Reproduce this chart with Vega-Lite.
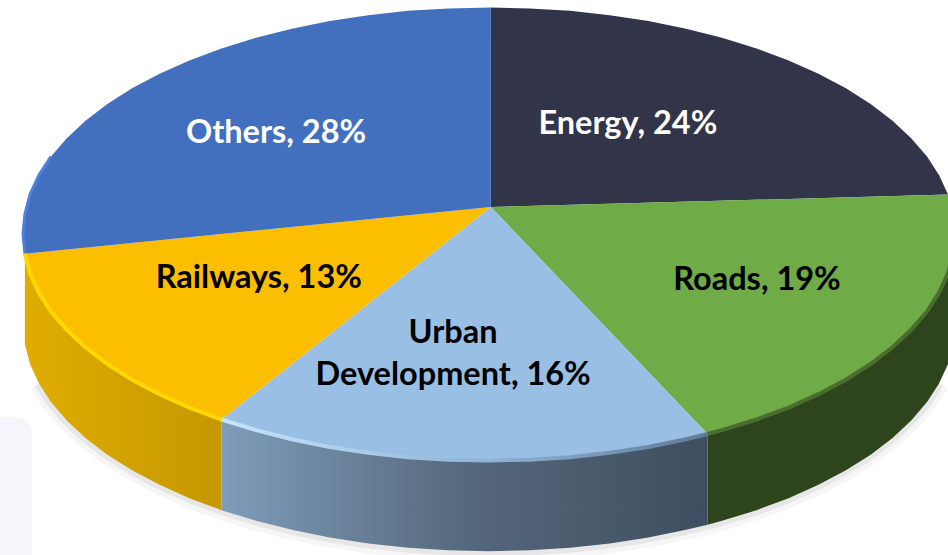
{"$schema":"https://vega.github.io/schema/vega-lite/v6.json","width":948,"height":555,"padding":0,"autosize":{"type":"fit","contains":"padding"},"background":"white","config":{"view":{"stroke":null}},
"datasets":{
"rim":[
{"slice":"Energy","i":0,"x":0.4,"y":11.9},{"slice":"Energy","i":1,"x":0.4,"y":100},{"slice":"Energy","i":2,"x":8.7,"y":99.6},{"slice":"Energy","i":3,"x":17.4,"y":98.5},{"slice":"Energy","i":4,"x":25.9,"y":96.6},{"slice":"Energy","i":5,"x":34.2,"y":94},{"slice":"Energy","i":6,"x":42.3,"y":90.6},{"slice":"Energy","i":7,"x":50,"y":86.6},{"slice":"Energy","i":8,"x":57.4,"y":81.9},{"slice":"Energy","i":9,"x":64.3,"y":76.6},{"slice":"Energy","i":10,"x":70.7,"y":70.7},{"slice":"Energy","i":11,"x":76.6,"y":64.3},{"slice":"Energy","i":12,"x":81.9,"y":57.4},{"slice":"Energy","i":13,"x":86.6,"y":50},{"slice":"Energy","i":14,"x":90.6,"y":42.3},{"slice":"Energy","i":15,"x":94,"y":34.2},{"slice":"Energy","i":16,"x":96.6,"y":25.9},{"slice":"Energy","i":17,"x":98.5,"y":17.4},
{"slice":"Roads","i":0,"x":0.4,"y":11.9},{"slice":"Roads","i":1,"x":98.5,"y":17.4},{"slice":"Roads","i":2,"x":99.6,"y":8.7},{"slice":"Roads","i":3,"x":100,"y":0,"base":-40},{"slice":"Roads","i":4,"x":99.6,"y":-8.7,"base":-48.7},{"slice":"Roads","i":5,"x":98.5,"y":-17.4,"base":-57.4},{"slice":"Roads","i":6,"x":96.6,"y":-25.9,"base":-65.9},{"slice":"Roads","i":7,"x":94,"y":-34.2,"base":-74.2},{"slice":"Roads","i":8,"x":90.6,"y":-42.3,"base":-82.3},{"slice":"Roads","i":9,"x":86.6,"y":-50,"base":-90},{"slice":"Roads","i":10,"x":81.9,"y":-57.4,"base":-97.4},{"slice":"Roads","i":11,"x":76.6,"y":-64.3,"base":-104.3},{"slice":"Roads","i":12,"x":70.7,"y":-70.7,"base":-110.7},{"slice":"Roads","i":13,"x":64.3,"y":-76.6,"base":-116.6},{"slice":"Roads","i":14,"x":57.4,"y":-81.9,"base":-121.9},{"slice":"Roads","i":15,"x":50,"y":-86.6,"base":-126.6},{"slice":"Roads","i":16,"x":46.9,"y":-88.3,"base":-128.3},
{"slice":"Urban Development","i":0,"x":0.4,"y":11.9},{"slice":"Urban Development","i":1,"x":46.9,"y":-88.3,"base":-128.3},{"slice":"Urban Development","i":2,"x":42.3,"y":-90.6,"base":-130.6},{"slice":"Urban Development","i":3,"x":34.2,"y":-94,"base":-134},{"slice":"Urban Development","i":4,"x":25.9,"y":-96.6,"base":-136.6},{"slice":"Urban Development","i":5,"x":17.4,"y":-98.5,"base":-138.5},{"slice":"Urban Development","i":6,"x":8.7,"y":-99.6,"base":-139.6},{"slice":"Urban Development","i":7,"x":0,"y":-100,"base":-140},{"slice":"Urban Development","i":8,"x":-8.7,"y":-99.6,"base":-139.6},{"slice":"Urban Development","i":9,"x":-17.4,"y":-98.5,"base":-138.5},{"slice":"Urban Development","i":10,"x":-25.9,"y":-96.6,"base":-136.6},{"slice":"Urban Development","i":11,"x":-34.2,"y":-94,"base":-134},{"slice":"Urban Development","i":12,"x":-42.3,"y":-90.6,"base":-130.6},{"slice":"Urban Development","i":13,"x":-50,"y":-86.6,"base":-126.6},{"slice":"Urban Development","i":14,"x":-57.4,"y":-81.9,"base":-121.9},
{"slice":"Railways","i":0,"x":0.4,"y":11.9},{"slice":"Railways","i":1,"x":-57.4,"y":-81.9,"base":-121.9},{"slice":"Railways","i":2,"x":-64.3,"y":-76.6,"base":-116.6},{"slice":"Railways","i":3,"x":-70.7,"y":-70.7,"base":-110.7},{"slice":"Railways","i":4,"x":-76.6,"y":-64.3,"base":-104.3},{"slice":"Railways","i":5,"x":-81.9,"y":-57.4,"base":-97.4},{"slice":"Railways","i":6,"x":-86.6,"y":-50,"base":-90},{"slice":"Railways","i":7,"x":-90.6,"y":-42.3,"base":-82.3},{"slice":"Railways","i":8,"x":-94,"y":-34.2,"base":-74.2},{"slice":"Railways","i":9,"x":-96.6,"y":-25.9,"base":-65.9},{"slice":"Railways","i":10,"x":-98.5,"y":-17.4,"base":-57.4},{"slice":"Railways","i":11,"x":-99.6,"y":-8.7,"base":-48.7},
{"slice":"Others","i":0,"x":0.4,"y":11.9},{"slice":"Others","i":1,"x":-99.6,"y":-8.7},{"slice":"Others","i":2,"x":-100,"y":0},{"slice":"Others","i":3,"x":-99.6,"y":8.7},{"slice":"Others","i":4,"x":-98.5,"y":17.4},{"slice":"Others","i":5,"x":-96.6,"y":25.9},{"slice":"Others","i":6,"x":-94,"y":34.2},{"slice":"Others","i":7,"x":-90.6,"y":42.3},{"slice":"Others","i":8,"x":-86.6,"y":50},{"slice":"Others","i":9,"x":-81.9,"y":57.4},{"slice":"Others","i":10,"x":-76.6,"y":64.3},{"slice":"Others","i":11,"x":-70.7,"y":70.7},{"slice":"Others","i":12,"x":-64.3,"y":76.6},{"slice":"Others","i":13,"x":-57.4,"y":81.9},{"slice":"Others","i":14,"x":-50,"y":86.6},{"slice":"Others","i":15,"x":-42.3,"y":90.6},{"slice":"Others","i":16,"x":-34.2,"y":94},{"slice":"Others","i":17,"x":-25.9,"y":96.6},{"slice":"Others","i":18,"x":-17.4,"y":98.5},{"slice":"Others","i":19,"x":-8.7,"y":99.6},{"slice":"Others","i":20,"x":0.4,"y":100}
],
"labels":[
{"slice":"Energy","share":24,"label":"Energy, 24%","x":29.8,"y":48.6},
{"slice":"Others","share":28,"label":"Others, 28%","x":-45.7,"y":44.6},
{"slice":"Roads","share":19,"label":"Roads, 19%","x":57.5,"y":-20.3},
{"slice":"Railways","share":13,"label":"Railways, 13%","x":-49.4,"y":-19.4},
{"slice":"Urban Development","share":16,"label":"Urban\nDevelopment, 16%","x":-7.7,"y":-43.7}
],
"panel":[{"x":-104.94,"x2":-98.07,"y":-80.8,"y2":-141.7}]
},
"encoding":{
"x":{"field":"x","type":"quantitative","axis":null,"scale":{"domain":[-104.94,98.5],"nice":false,"zero":false}},
"y":{"field":"y","type":"quantitative","axis":null,"scale":{"domain":[-141.7,103.3],"nice":false,"zero":false}}
},
"layer":[
{"data":{"name":"panel"},"mark":{"type":"rect","fill":"#f5f5fb","cornerRadiusTopRight":18},"encoding":{"x2":{"field":"x2"},"y2":{"field":"y2"}}},
{"data":{"name":"rim"},"transform":[{"filter":"isValid(datum.base) && datum.y<-20"}],"mark":{"type":"line","stroke":"#000000","strokeWidth":20,"opacity":0.035,"clip":true},"encoding":{"y":{"field":"base","type":"quantitative"},"detail":{"field":"slice"},"order":{"field":"i"}}},
{"data":{"name":"rim"},"transform":[{"filter":"isValid(datum.base) && datum.y<-20"}],"mark":{"type":"line","stroke":"#000000","strokeWidth":10,"opacity":0.06,"clip":true},"encoding":{"y":{"field":"base","type":"quantitative"},"detail":{"field":"slice"},"order":{"field":"i"}}},
{"data":{"name":"rim"},"transform":[{"filter":"datum.slice==='Railways' && datum.i>0"}],"mark":{"type":"area","clip":true,"fill":{"x1":0,"y1":0,"x2":1,"y2":0,"gradient":"linear","stops":[{"offset":0,"color":"#E0AC00"},{"offset":1,"color":"#C59800"}]}},"encoding":{"y2":{"field":"base"}}},
{"data":{"name":"rim"},"transform":[{"filter":"datum.slice==='Urban Development' && datum.i>0"}],"mark":{"type":"area","clip":true,"fill":{"x1":0,"y1":0,"x2":1,"y2":0,"gradient":"linear","stops":[{"offset":0,"color":"#7F9DBB"},{"offset":0.5,"color":"#56687C"},{"offset":1,"color":"#3E4E60"}]}},"encoding":{"y2":{"field":"base"}}},
{"data":{"name":"rim"},"transform":[{"filter":"datum.slice==='Roads' && isValid(datum.base)"}],"mark":{"type":"area","clip":true,"fill":"#2E441C"},"encoding":{"y2":{"field":"base"}}},
{"data":{"name":"rim"},"mark":{"type":"line","filled":true,"strokeWidth":0,"clip":true},"encoding":{"fill":{"field":"slice","type":"nominal","legend":null,"scale":{"domain":["Energy","Roads","Urban Development","Railways","Others"],"range":["#323449","#6FAB47","#9ABFE4","#FBBE00","#4270BF"]}},"detail":{"field":"slice"},"order":{"field":"i"}}},
{"data":{"name":"rim"},"transform":[{"filter":"datum.slice==='Others' && datum.i>0 && datum.i<7"}],"mark":{"type":"line","stroke":"#4B80DB","strokeWidth":3,"clip":true},"encoding":{"order":{"field":"i"}}},
{"data":{"name":"rim"},"transform":[{"filter":"datum.slice==='Railways' && datum.i>0"}],"mark":{"type":"line","stroke":"#FFD800","strokeWidth":4,"clip":true},"encoding":{"order":{"field":"i"}}},
{"data":{"name":"rim"},"transform":[{"filter":"datum.slice==='Urban Development' && datum.i>0"}],"mark":{"type":"line","strokeWidth":4,"clip":true,"stroke":{"x1":0,"y1":0,"x2":1,"y2":0,"gradient":"linear","stops":[{"offset":0,"color":"#C5E6FF"},{"offset":0.55,"color":"#8FB3D6"},{"offset":1,"color":"#5E7C98"}]}},"encoding":{"order":{"field":"i"}}},
{"data":{"name":"rim"},"transform":[{"filter":"datum.slice==='Roads' && isValid(datum.base)"}],"mark":{"type":"line","stroke":"#4A6E30","strokeWidth":4,"clip":true},"encoding":{"order":{"field":"i"}}},
{"data":{"name":"labels"},"mark":{"type":"text","font":"Lato","fontWeight":"bold","fontSize":32.5,"lineHeight":42,"lineBreak":"\n","align":"center","baseline":"middle"},"encoding":{"text":{"field":"label"},"color":{"condition":{"test":"datum.slice==='Energy'||datum.slice==='Others'","value":"#ffffff"},"value":"#000000"}}}
]}
